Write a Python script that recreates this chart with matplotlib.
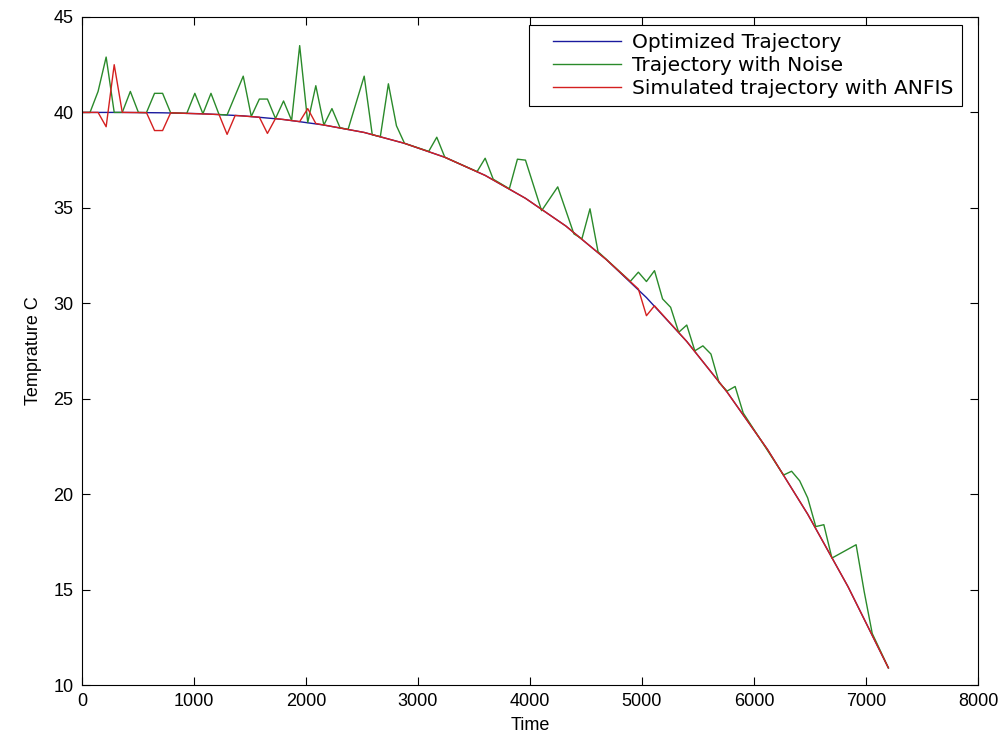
import matplotlib
matplotlib.use('Agg')
import matplotlib.pyplot as plt
from matplotlib.legend_handler import HandlerLine2D

# Optimized trajectory (read every 360 s)
opt_time = [0, 360, 720, 1080, 1440, 1800, 2160, 2520, 2880, 3240, 3600,
            3960, 4320, 4680, 5040, 5400, 5760, 6120, 6480, 6840, 7200]
opt_temp = [40.00, 40.00, 39.98, 39.93, 39.82, 39.63, 39.34, 38.95, 38.38, 37.65, 36.70,
            35.50, 34.05, 32.30, 30.30, 28.00, 25.35, 22.35, 18.95, 15.15, 10.90]

# Trajectory with noise (vertices)
noise_time = [0, 72, 144, 216, 288, 360, 432, 504, 576, 648, 720, 792, 936, 1008,
              1080, 1152, 1224, 1296, 1440, 1512, 1584, 1656, 1728, 1800, 1872, 1944,
              2016, 2088, 2160, 2232, 2304, 2376, 2520, 2592, 2664, 2736, 2808, 2880,
              3096, 3168, 3240, 3528, 3600, 3672, 3816, 3888, 3960, 4104, 4248, 4392,
              4464, 4536, 4608, 4896, 4968, 5040, 5112, 5184, 5256, 5328, 5400, 5472,
              5544, 5616, 5688, 5760, 5832, 5904, 6264, 6336, 6408, 6480, 6552, 6624,
              6696, 6912, 6984, 7056, 7200]
noise_temp = [40.00, 40.00, 41.1, 42.9, 40.00, 40.00, 41.1, 40.00, 39.99, 41.0, 41.0, 39.98, 39.95, 41.0,
              39.93, 41.0, 39.89, 39.87, 41.9, 39.79, 40.7, 40.7, 39.68, 40.6, 39.58, 43.5,
              39.47, 41.4, 39.34, 40.2, 39.20, 39.11, 41.9, 38.83, 38.73, 41.5, 39.3, 38.38,
              37.96, 38.7, 37.65, 36.90, 37.6, 36.50, 36.0, 37.55, 37.5, 34.85, 36.1, 33.64,
              33.38, 34.95, 32.7, 31.15, 31.63, 31.14, 31.71, 30.23, 29.79, 28.48, 28.86, 27.51,
              27.77, 27.34, 25.85, 25.40, 25.64, 24.25, 21.0, 21.2, 20.7, 19.8, 18.3, 18.4,
              16.65, 17.35, 14.9, 12.7, 10.9]

# Simulated trajectory with ANFIS (vertices)
anfis_time = [0, 144, 216, 288, 360, 576, 648, 720, 792, 1224, 1296, 1368, 1584, 1656,
              1728, 1944, 2016, 2088, 2160, 2520, 2880, 3240, 3600, 3960, 4320, 4680,
              4968, 5040, 5112, 5400, 5760, 6120, 6480, 6840, 7200]
anfis_temp = [40.00, 40.00, 39.25, 42.5, 40.00, 39.99, 39.05, 39.05, 39.98, 39.89, 38.85, 39.84, 39.75, 38.9,
              39.68, 39.52, 40.2, 39.42, 39.34, 38.95, 38.38, 37.65, 36.70, 35.50, 34.05, 32.30,
              30.75, 29.35, 29.87, 28.00, 25.35, 22.35, 18.95, 15.15, 10.90]

labels = ['Optimized Trajectory', 'Trajectory with Noise', 'Simulated trajectory with ANFIS']
colors = ['#1a1a9e', '#2a8a2a', '#d42020']


class PaddedLine(HandlerLine2D):
    # leave some empty space left of the legend line
    def create_artists(self, legend, orig_handle, xdescent, ydescent, width, height,
                       fontsize, trans):
        pad = 12
        return super().create_artists(legend, orig_handle, xdescent - pad, ydescent,
                                      width - pad, height, fontsize, trans)


plt.rcParams['font.family'] = ['Liberation Sans', 'DejaVu Sans']

fig = plt.figure(figsize=(10.08, 7.42), dpi=100)
ax = fig.add_axes([0.0813, 0.0768, 0.8889, 0.9003])

ax.plot(opt_time, opt_temp, color=colors[0], linewidth=1.0, label=labels[0])
ax.plot(noise_time, noise_temp, color=colors[1], linewidth=1.0, label=labels[1])
ax.plot(anfis_time, anfis_temp, color=colors[2], linewidth=1.0, label=labels[2])

ax.set_xlim(0, 8000)
ax.set_ylim(10, 45)
ax.set_xticks(range(0, 8001, 1000))
ax.set_yticks(range(10, 46, 5))
ax.tick_params(direction='in', top=True, right=True, length=6, width=0.8,
               labelsize=13, pad=6)
for s in ax.spines.values():
    s.set_linewidth(0.8)

ax.set_xlabel('Time', fontsize=13, labelpad=5)
ax.set_ylabel('Temprature C', fontsize=13, labelpad=8)

leg = ax.legend(loc='upper right', bbox_to_anchor=(0.982, 0.988), borderaxespad=0,
                fancybox=False, edgecolor='black', framealpha=1,
                prop={'family': 'DejaVu Sans', 'size': 14.5},
                handlelength=4.2, handletextpad=0.55, labelspacing=0.2, borderpad=0.4,
                handler_map={matplotlib.lines.Line2D: PaddedLine()})
leg.get_frame().set_linewidth(0.8)

fig.savefig('out.png', dpi=100)
